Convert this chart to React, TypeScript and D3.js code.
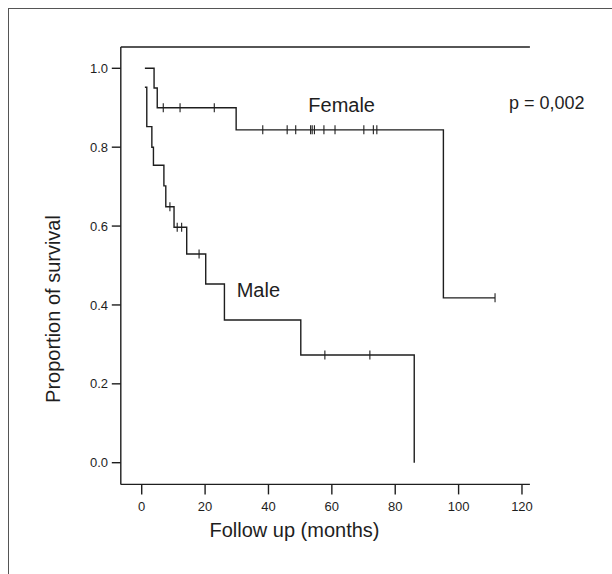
import React from "react";
import * as d3 from "d3";

// Kaplan-Meier steps (months, proportion surviving)
const femaleTimes = [1, 3.9, 4.9, 29.8, 95.2, 111.5];
const femaleSurv = [1.0, 0.95, 0.9, 0.844, 0.418, 0.418];
const femaleCensored = [6.8, 12.1, 22.9, 38.2, 45.9, 48.6, 53.3, 53.8, 54.5, 57.5, 61.0, 70.1, 73.1, 74.2, 111.5];

const maleTimes = [1, 1.6, 3.2, 3.7, 7.0, 7.6, 10.2, 14.2, 20.2, 26.1, 50.2, 86.0];
const maleSurv = [0.952, 0.852, 0.8, 0.754, 0.702, 0.649, 0.597, 0.529, 0.453, 0.362, 0.273, 0];
const maleCensored = [8.9, 11.2, 12.6, 18.1, 57.8, 72.0];

const xTicks = [0, 20, 40, 60, 80, 100, 120];
const yTicks = [0, 0.2, 0.4, 0.6, 0.8, 1.0];

const groupLabels = ["Female", "Male"];
const pLabel = "p = 0,002";
const xTitle = "Follow up (months)";
const yTitle = "Proportion of survival";

const W = 612;
const H = 574;
const font = "'Liberation Sans', Arial, Helvetica, sans-serif";
const ink = "#1e1e1e";

const x = d3.scaleLinear().domain([-6.6, 122.5]).range([120.8, 529.9]);
const y = d3.scaleLinear().domain([-0.055, 1.054]).range([484.4, 47]);

const stepLine = d3
  .line<[number, number]>()
  .x((d) => x(d[0]))
  .y((d) => y(d[1]))
  .curve(d3.curveStepAfter);

function survAt(times: number[], surv: number[], t: number) {
  let s = surv[0];
  times.forEach((tt, i) => {
    if (tt <= t) s = surv[i];
  });
  return s;
}

function Curve({ times, surv, censored }: { times: number[]; surv: number[]; censored: number[] }) {
  const pts = times.map((t, i) => [t, surv[i]] as [number, number]);
  return (
    <g>
      <path d={stepLine(pts) || ""} fill="none" stroke={ink} strokeWidth={1.4} />
      {censored.map((c, i) => {
        const cx = x(c);
        const cy = y(survAt(times, surv, c));
        return <line key={i} x1={cx} x2={cx} y1={cy - 4.5} y2={cy + 4.5} stroke={ink} strokeWidth={1.1} />;
      })}
    </g>
  );
}

export default function App() {
  const [x0, x1] = x.range();
  const [yb, yt] = y.range();
  return (
    <svg width={W} height={H} style={{ position: "absolute", left: 0, top: 0, background: "#fff" }} fontFamily={font}>
      <rect x={0} y={0} width={W} height={H} fill="#fff" />
      {/* outer frame, runs off the right and bottom edges */}
      <rect x={8.5} y={8.5} width={W + 20} height={H + 20} fill="none" stroke="#555" strokeWidth={1} />

      {/* axes and top line */}
      <line x1={x0} x2={x0} y1={yt} y2={yb} stroke={ink} strokeWidth={1.4} />
      <line x1={x0} x2={x1} y1={yb} y2={yb} stroke={ink} strokeWidth={1.4} />
      <line x1={x0} x2={x1} y1={yt} y2={yt} stroke={ink} strokeWidth={1.4} />

      {xTicks.map((t) => (
        <g key={t}>
          <line x1={x(t)} x2={x(t)} y1={yb} y2={yb + 10} stroke={ink} strokeWidth={1.4} />
          <text x={x(t)} y={510.5} textAnchor="middle" fontSize={13} fill={ink}>
            {t}
          </text>
        </g>
      ))}
      {yTicks.map((t) => (
        <g key={t}>
          <line x1={x0 - 9} x2={x0} y1={y(t)} y2={y(t)} stroke={ink} strokeWidth={1.4} />
          <text x={108} y={y(t) + 4.6} textAnchor="end" fontSize={13} fill={ink}>
            {t.toFixed(1)}
          </text>
        </g>
      ))}

      <Curve times={femaleTimes} surv={femaleSurv} censored={femaleCensored} />
      <Curve times={maleTimes} surv={maleSurv} censored={maleCensored} />

      <text x={308.3} y={111.5} fontSize={20} fill={ink}>
        {groupLabels[0]}
      </text>
      <text x={236.7} y={296.7} fontSize={20} fill={ink}>
        {groupLabels[1]}
      </text>
      <text x={509} y={109} fontSize={18} fill={ink}>
        {pLabel}
      </text>

      <text x={294.5} y={537} textAnchor="middle" fontSize={20} fill={ink}>
        {xTitle}
      </text>
      <text transform="translate(60,309) rotate(-90)" textAnchor="middle" fontSize={20} fill={ink}>
        {yTitle}
      </text>
    </svg>
  );
}
